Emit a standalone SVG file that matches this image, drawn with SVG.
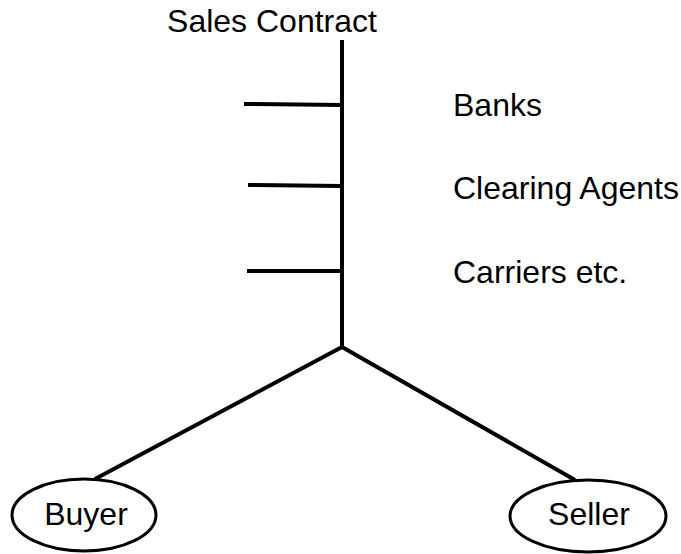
<svg xmlns="http://www.w3.org/2000/svg" width="681" height="554" viewBox="0 0 681 554">
<style>
text{font-family:"Liberation Sans",Arial,sans-serif;font-size:32px;fill:#000}
.ln{stroke:#000;stroke-width:4;fill:none}
.el{stroke:#000;stroke-width:3;fill:#fff}
</style>
<rect width="681" height="554" fill="#fff"/>
<g id="connectors">
<line class="ln" x1="342" y1="40" x2="342" y2="347"/>
<line class="ln" x1="244" y1="104" x2="342" y2="105"/>
<line class="ln" x1="248" y1="185" x2="342" y2="186"/>
<line class="ln" x1="247" y1="271" x2="342" y2="271"/>
<line class="ln" x1="342" y1="347" x2="95" y2="479"/>
<line class="ln" x1="342" y1="347" x2="575" y2="480"/>
</g>
<g id="sales-contract"><text x="272" y="32" text-anchor="middle">Sales Contract</text></g>
<g id="banks"><text x="453" y="116">Banks</text></g>
<g id="clearing-agents"><text x="453" y="199">Clearing Agents</text></g>
<g id="carriers"><text x="453" y="283">Carriers etc.</text></g>
<g id="buyer"><ellipse class="el" cx="84" cy="515" rx="72" ry="36"/><text x="86" y="525" text-anchor="middle">Buyer</text></g>
<g id="seller"><ellipse class="el" cx="588" cy="516" rx="78" ry="36"/><text x="589" y="525" text-anchor="middle">Seller</text></g>
</svg>
